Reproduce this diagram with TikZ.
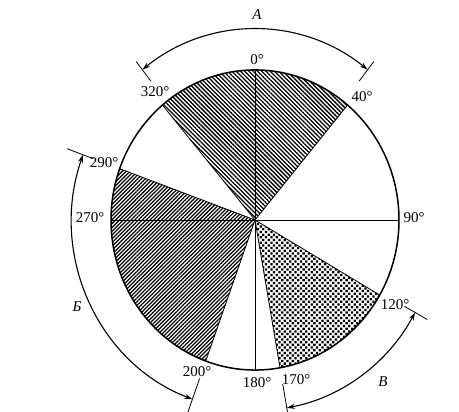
\documentclass[tikz,border=0pt]{standalone}
\usepackage{fontspec}
\setmainfont{Liberation Serif}
\usetikzlibrary{patterns.meta,arrows.meta}
\tikzset{
  lbl/.style={font=\fontsize{15}{17}\selectfont, inner sep=0pt},
  ilbl/.style={font=\fontsize{15}{17}\selectfont\itshape, inner sep=0pt},
  radial/.style={line width=0.8pt},
  rim/.style={line width=1.5pt},
  span/.style={line width=1.1pt, {Stealth[length=8pt,width=5pt]}-{Stealth[length=8pt,width=5pt]}},
  tickmark/.style={line width=0.8pt},
  hatchA/.style={pattern={Lines[angle=-45,distance=3pt,line width=1.3pt]}},
  hatchB/.style={pattern={Lines[angle=45,distance=2.7pt,line width=1.25pt]}},
  dotted area/.style={pattern={Dots[distance=3.8pt,radius=1.6pt,angle=45]}}
}
\begin{document}
\begin{tikzpicture}[x=1pt,y=1pt]
\useasboundingbox (0,0) rectangle (459,412);
\fill[white] (0,0) rectangle (459,412);
\begin{scope}[shift={(255,192)}, yscale=1.042]
  \def\R{144}
  \coordinate (c) at (0,0);
  % sectors
  \path[hatchA] (c) -- (130:\R) arc[start angle=130,end angle=50,radius=\R] -- cycle;
  \path[hatchB] (c) -- (160:\R) arc[start angle=160,end angle=250,radius=\R] -- cycle;
  \path[dotted area] (c) -- (-30:\R) arc[start angle=-30,end angle=-80,radius=\R] -- cycle;
  % radial lines
  \foreach \a in {90,50,0,-30,-80,-90,-110,-180,-200,-230}
    \draw[radial] (c) -- (\a:\R);
  \draw[rim] (c) circle[radius=\R];
  % arc A
  \coordinate (a1) at (128:183);
  \coordinate (a2) at (52:183);
  \draw[span] (a1) arc[start angle=128,end angle=52,radius=183];
  \draw[tickmark] (128:169) -- (128:193);
  \draw[tickmark] (52:169) -- (52:193);
  % arc B (Cyrillic Be)
  \coordinate (b1) at (160:183);
  \draw[span] (b1) arc[start angle=160,end angle=250,radius=183];
  \draw[tickmark] (160:172) -- (160:200);
  \draw[tickmark] (250:162) -- (250:205);
  % arc V
  \coordinate (v1) at (-29:183);
  \draw[span] (v1) arc[start angle=-29,end angle=-80,radius=183];
  \draw[tickmark] (-29:171) -- (-29:197);
  \draw[tickmark] (-80:160) -- (-80:205);
\end{scope}
% labels (pixel coordinates converted: y = 412 - y_px)
\node[lbl] (l0)   at (257,352) {0°};
\node[lbl] (l40)  at (362,315) {40°};
\node[lbl] (l320) at (155,320) {320°};
\node[lbl] (l290) at (104,249) {290°};
\node[lbl] (l270) at (90,194)  {270°};
\node[lbl] (l90)  at (414,194) {90°};
\node[lbl] (l120) at (395,107) {120°};
\node[lbl] (l200) at (197,40)  {200°};
\node[lbl] (l180) at (257,29)  {180°};
\node[lbl] (l170) at (296,32)  {170°};
\node[ilbl] (lA)  at (257,397) {A};
\node[ilbl] (lB)  at (77,105)  {Б};
\node[ilbl] (lV)  at (383,30)  {В};
\end{tikzpicture}
\end{document}
